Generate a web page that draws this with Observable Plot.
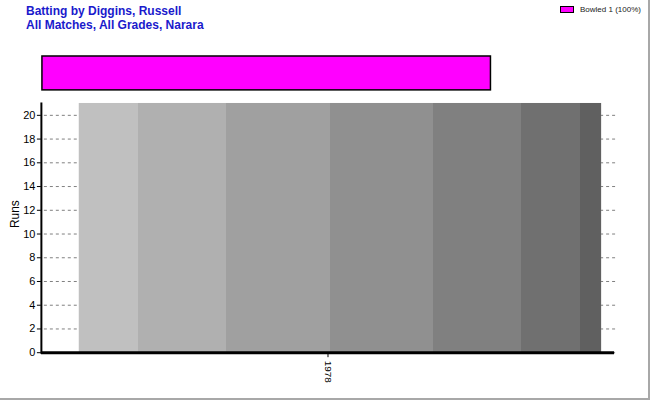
<!DOCTYPE html>
<html>
<head>
<meta charset="utf-8">
<script src="https://cdn.jsdelivr.net/npm/d3@7"></script>
<script src="https://cdn.jsdelivr.net/npm/@observablehq/plot@0.6"></script>
<style>
  html, body { margin: 0; padding: 0; background: #fff; }
  #page { position: relative; width: 648px; height: 398px; border-right: 2px solid #a8a8a8; border-bottom: 2px solid #a8a8a8; background: #fff; overflow: hidden; font-family: Arial, "Liberation Sans", sans-serif; }
  #title { position: absolute; left: 26px; top: 4px; color: #1a1acc; font-weight: bold; font-size: 12px; line-height: 14px; }
  #legend { position: absolute; left: 560px; top: 5px; font-size: 8px; color: #222; display: flex; align-items: center; }
  #legend .sw { width: 12px; height: 5px; background: #ff00ff; border: 1px solid #000; margin-right: 6px; }
  #dismiss { position: absolute; left: 0; top: 54px; }
  #main { position: absolute; left: 0; top: 95px; }
</style>
</head>
<body>
<div id="page">
  <div id="title">Batting by Diggins, Russell<br>All Matches, All Grades, Narara</div>
  <div id="legend"></div>
  <div id="dismiss"></div>
  <div id="main"></div>
</div>
<script>
// ---- data ----
const seasons = ["1978"];
const runs = [21];
const dismissalTypes = ["Bowled"];
const dismissalCounts = [1];
const dismissalColors = ["#ff00ff"];
const yTicks = [0, 2, 4, 6, 8, 10, 12, 14, 16, 18, 20];

const totalDismissals = d3.sum(dismissalCounts);

// legend
const legend = document.getElementById("legend");
dismissalTypes.forEach((t, i) => {
  const sw = document.createElement("span");
  sw.className = "sw";
  sw.style.background = dismissalColors[i];
  const lab = document.createElement("span");
  lab.textContent = `${t} ${dismissalCounts[i]} (${Math.round(100 * dismissalCounts[i] / totalDismissals)}%)`;
  legend.appendChild(sw);
  legend.appendChild(lab);
});

// dismissal stacked bar
const dismissData = dismissalTypes.map((t, i) => ({type: t, count: dismissalCounts[i]}));
const dismissPlot = Plot.plot({
  width: 650,
  height: 38,
  marginLeft: 42,
  marginRight: 158,
  marginTop: 2,
  marginBottom: 2,
  x: {domain: [0, totalDismissals], axis: null},
  color: {domain: dismissalTypes, range: dismissalColors},
  marks: [
    Plot.barX(dismissData, Plot.stackX({x: "count", fill: "type", stroke: "#000", strokeWidth: 1.5}))
  ]
});
document.getElementById("dismiss").appendChild(dismissPlot);

// main runs chart
const runData = seasons.map((s, i) => ({season: s, runs: runs[i]}));
const mainPlot = Plot.plot({
  width: 650,
  height: 305,
  marginLeft: 41,
  marginRight: 34,
  marginTop: 8,
  marginBottom: 47,
  style: {fontFamily: "Arial, 'Liberation Sans', sans-serif", background: "transparent", color: "#000"},
  x: {domain: seasons, padding: 0, label: null},
  y: {domain: [0, 21], label: null},
  marks: [
    Plot.ruleY(yTicks, {stroke: "#808080", strokeDasharray: "3,3", strokeWidth: 1, insetLeft: 3, insetRight: -4}),
    Plot.barY(runData, {x: "season", y: "runs", fill: "url(#runGrad)", insetLeft: 38, insetRight: 13}),
    Plot.axisY(yTicks, {tickSize: 4, tickPadding: 2, fontSize: 11, label: null}),
    Plot.axisX({tickSize: 5, tickRotate: 90, fontSize: 10, label: null, tickPadding: 3}),
    Plot.text(["Runs"], {frameAnchor: "left", dx: -26, rotate: -90, fontSize: 12}),
    Plot.frame({anchor: "left", stroke: "#000", strokeWidth: 2}),
    Plot.ruleY([0], {stroke: "#000", strokeWidth: 3})
  ]
});
// gradient definition (stepped shading across the bar)
const stops = [
  [0, "#c0c0c0"], [0.113, "#c0c0c0"],
  [0.113, "#b0b0b0"], [0.281, "#b0b0b0"],
  [0.281, "#a0a0a0"], [0.48, "#a0a0a0"],
  [0.48, "#909090"], [0.679, "#909090"],
  [0.679, "#808080"], [0.847, "#808080"],
  [0.847, "#707070"], [0.96, "#707070"],
  [0.96, "#606060"], [1, "#606060"]
];
const svg = d3.select(mainPlot.tagName.toLowerCase() === "svg" ? mainPlot : mainPlot.querySelector("svg"));
const grad = svg.insert("defs", ":first-child").append("linearGradient")
  .attr("id", "runGrad").attr("x1", "0").attr("x2", "1").attr("y1", "0").attr("y2", "0");
stops.forEach(([o, c]) => grad.append("stop").attr("offset", o).attr("stop-color", c));
document.getElementById("main").appendChild(mainPlot);
</script>
</body>
</html>
